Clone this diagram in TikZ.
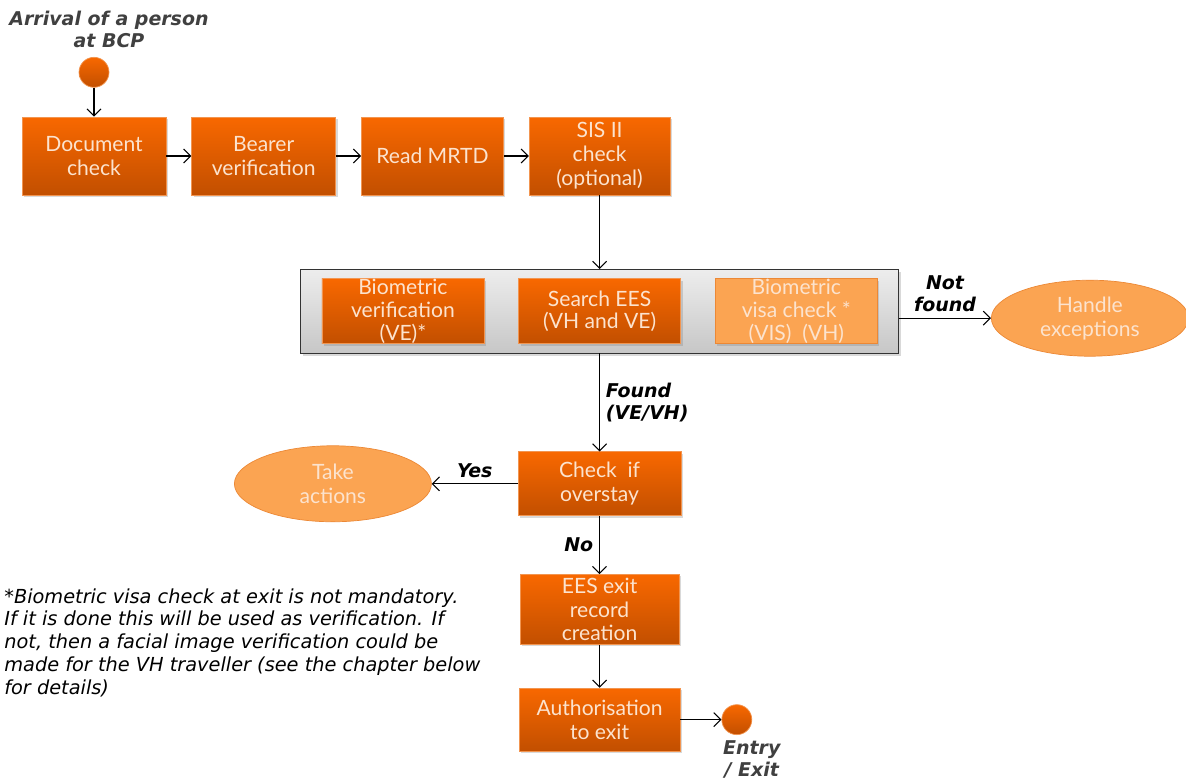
\documentclass[tikz,border=0pt]{standalone}
\usepackage{fontspec}
\setmainfont{Lato}
\newfontfamily\verdana{DejaVu Sans}
\usetikzlibrary{shapes.geometric,positioning,shadows,fit,arrows.meta,backgrounds}
\definecolor{naranja}{HTML}{F86800}
\definecolor{naranjaosc}{HTML}{C24F00}
\definecolor{naranjaborde}{HTML}{F29550}
\definecolor{claro}{HTML}{FBA452}
\definecolor{claroborde}{HTML}{EC8835}
\definecolor{textoclaro}{HTML}{FCE3CE}
\definecolor{grisetq}{HTML}{404040}
\tikzset{
	paso/.style={rectangle, draw=naranjaborde, top color=naranja, bottom color=naranjaosc,
		text=textoclaro, font=\fontsize{12}{13.6}\selectfont, minimum width=2.88cm,
		minimum height=1.56cm, align=center, inner sep=1pt,
		drop shadow={opacity=0.3, shadow xshift=0.04cm, shadow yshift=-0.04cm}},
	interno/.style={paso, minimum width=3.24cm, minimum height=1.3cm, inner ysep=0pt,
		font=\fontsize{12}{13}\selectfont},
	pasoclaro/.style={interno, fill=claro, draw=claroborde, top color=claro, bottom color=claro},
	salida/.style={ellipse, fill=claro, draw=claroborde, text=textoclaro,
		font=\fontsize{12}{13.6}\selectfont, minimum width=3.94cm, minimum height=1.52cm,
		align=center, inner sep=1pt},
	punto/.style={circle, draw=naranjaborde, top color=naranja, bottom color=naranjaosc,
		minimum size=0.6cm, inner sep=0pt},
	marco/.style={rectangle, draw=black!80, top color=black!7, bottom color=black!22,
		inner xsep=0.42cm, inner ysep=0.18cm,
		drop shadow={opacity=0.3, shadow xshift=0.05cm, shadow yshift=-0.05cm}},
	etiqueta/.style={font=\verdana\bfseries\itshape\fontsize{10.8}{12.6}\selectfont, align=center},
	nota/.style={font=\verdana\itshape\fontsize{11}{13}\selectfont, align=left, inner sep=0pt},
	flecha/.style={draw=black, line width=0.6pt, -{Straight Barb[length=1.4mm, width=2.8mm]}}
}
\begin{document}
\begin{tikzpicture}
	\useasboundingbox (0,0) rectangle (23.72,-15.66);
	% fila superior
	\node[paso] (doc) at (1.88,-3.12) {Document\\check};
	\node[paso, right=0.5cm of doc] (bearer) {Bearer\\verification};
	\node[paso, minimum width=2.84cm, right=0.5cm of bearer] (mrtd) {Read MRTD};
	\node[paso, minimum width=2.82cm, right=0.5cm of mrtd] (sis) {SIS II\\check\\(optional)};
	\node[punto, above=0.58cm of doc] (llegada) {};
	\node[etiqueta, text=grisetq, above=0.05cm of llegada, xshift=0.3cm] (llegadatxt) {Arrival of a person\\at BCP};
	
	% busqueda
	\node[interno, below=1.66cm of sis] (ees) {Search EES\\(VH and VE)};
	\node[interno, left=0.68cm of ees] (biover) {Biometric\\verification\\(VE)*};
	\node[pasoclaro, right=0.68cm of ees] (visa) {Biometric\\visa check *\\(VIS)\ \ (VH)};
	\begin{scope}[on background layer]
		\node[marco, fit=(biover)(visa)] (marco) {};
	\end{scope}
	\node[salida, right=1.84cm of marco, yshift=-0.14cm] (excep) {Handle\\exceptions};
	
	% salida
	\node[paso, minimum width=3.26cm, minimum height=1.28cm, below=1.96cm of marco] (over) {Check\ \ if\\overstay};
	\node[salida, left=1.72cm of over] (accion) {Take\\actions};
	\node[paso, minimum width=3.18cm, minimum height=1.4cm, below=1.16cm of over] (registro) {EES exit\\record\\creation};
	\node[paso, minimum width=3.22cm, minimum height=1.26cm, below=0.86cm of registro] (autor) {Authorisation\\to exit};
	\node[punto, right=0.82cm of autor] (fin) {};
	\node[etiqueta, text=grisetq, below=-0.02cm of fin, xshift=0.3cm] (fintxt) {Entry\\/ Exit};
	
	\node[nota, anchor=north west] (nota) at (0.08,-11.76) {*Biometric visa check at exit is not mandatory.\\
		If it is done this will be used as verification. If\\
		not, then a facial image verification could be\\
		made for the VH traveller (see the chapter below\\
		for details)};
	
	% flechas
	\draw[flecha] (llegada) -- (doc);
	\draw[flecha] (doc) -- (bearer);
	\draw[flecha] (bearer) -- (mrtd);
	\draw[flecha] (mrtd) -- (sis);
	\draw[flecha] (sis) -- (sis |- marco.north);
	\draw[flecha] (marco.east |- excep) -- node[etiqueta, above] {Not\\found} (excep);
	\draw[flecha] (marco) -- node[etiqueta, right, align=left] {Found\\(VE/VH)} (over);
	\draw[flecha] (over) -- node[etiqueta, above] {Yes} (accion);
	\draw[flecha] (over) -- node[etiqueta, left] {No} (registro);
	\draw[flecha] (registro) -- (autor);
	\draw[flecha] (autor) -- (fin);
\end{tikzpicture}
\end{document}
